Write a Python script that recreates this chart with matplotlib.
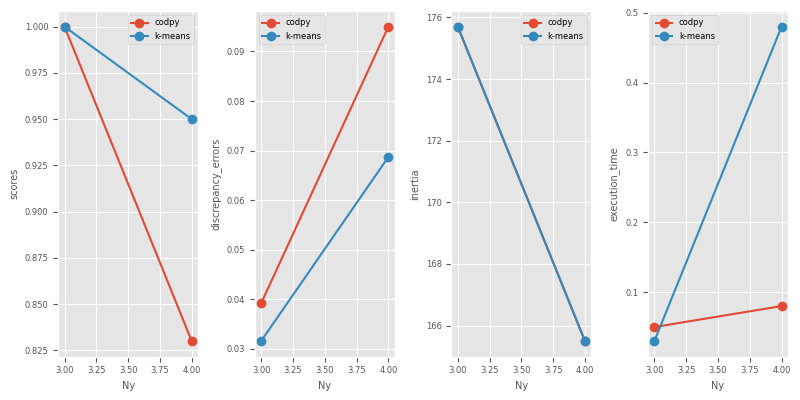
import matplotlib
matplotlib.use("Agg")
import matplotlib.pyplot as plt

plt.style.use("ggplot")
plt.rcParams["font.size"] = 6
plt.rcParams["axes.labelsize"] = 7
plt.rcParams["xtick.labelsize"] = 6
plt.rcParams["ytick.labelsize"] = 6
plt.rcParams["legend.fontsize"] = 6

Ny = [3, 4]

scores_codpy = [1.0, 0.83]
scores_kmeans = [1.0, 0.95]

discrepancy_codpy = [0.0392, 0.0950]
discrepancy_kmeans = [0.0316, 0.0687]

inertia_codpy = [175.7, 165.5]
inertia_kmeans = [175.7, 165.5]

time_codpy = [0.050, 0.080]
time_kmeans = [0.030, 0.480]

panels = [
    ("scores", scores_codpy, scores_kmeans),
    ("discrepancy_errors", discrepancy_codpy, discrepancy_kmeans),
    ("inertia", inertia_codpy, inertia_kmeans),
    ("execution_time", time_codpy, time_kmeans),
]

fig, axes = plt.subplots(1, 4, figsize=(8, 4), dpi=100)

for ax, (name, codpy, kmeans) in zip(axes, panels):
    ax.plot(Ny, codpy, marker="o", label="codpy")
    ax.plot(Ny, kmeans, marker="o", label="k-means")
    ax.set_xlabel("Ny")
    ax.set_ylabel(name)
    ax.legend(loc="best")

plt.tight_layout()
plt.savefig("out.png", dpi=100)
